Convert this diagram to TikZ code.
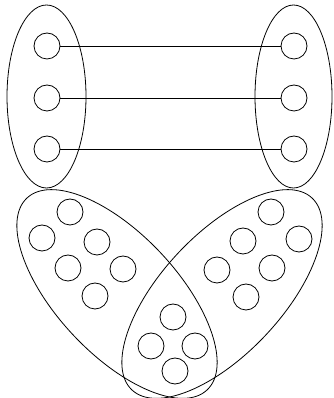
\documentclass[tikz,border=0pt]{standalone}
\begin{document}
\begin{tikzpicture}[x=1pt,y=1pt,line width=0.8pt,
  dot/.style={draw,circle,minimum size=26pt,inner sep=0pt},
  group/.style={draw}]
\useasboundingbox (0,0) rectangle (333,398);
% top groups
\draw[group] (46.5,301.5) ellipse [x radius=39.5, y radius=91.5];
\draw[group] (293.5,301.5) ellipse [x radius=38.5, y radius=91.5];
% lower tilted groups
\draw[group,rotate around={-46.8:(117,104)}] (117,104) ellipse [x radius=131.6, y radius=60];
\draw[group,rotate around={46.8:(222,104)}] (222,104) ellipse [x radius=131.6, y radius=60];
% top-left dots
\node[dot] (l1) at (47,352) {};
\node[dot] (l2) at (47,300) {};
\node[dot] (l3) at (47,249) {};
% top-right dots
\node[dot] (r1) at (294,352) {};
\node[dot] (r2) at (294,300) {};
\node[dot] (r3) at (294,249) {};
\draw (l1) -- (r1);
\draw (l2) -- (r2);
\draw (l3) -- (r3);
% lower-left dots
\node[dot] (a1) at (70,186) {};
\node[dot] (a2) at (42,160) {};
\node[dot] (a3) at (97,156) {};
\node[dot] (a4) at (68,130) {};
\node[dot] (a5) at (123,129) {};
\node[dot] (a6) at (95,102) {};
% lower-right dots
\node[dot] (b1) at (271,186) {};
\node[dot] (b2) at (299,159) {};
\node[dot] (b3) at (243,157) {};
\node[dot] (b4) at (217,128) {};
\node[dot] (b5) at (272,130) {};
\node[dot] (b6) at (246,101) {};
% intersection dots
\node[dot] (c1) at (173,81) {};
\node[dot] (c2) at (151,52) {};
\node[dot] (c3) at (195,52) {};
\node[dot] (c4) at (175,27) {};
\end{tikzpicture}
\end{document}
